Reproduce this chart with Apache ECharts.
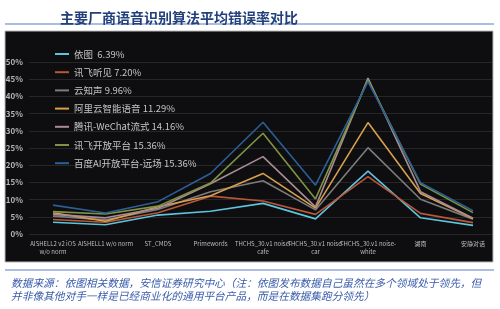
<!DOCTYPE html>
<html>
<head>
<meta charset="utf-8">
<script src="https://cdn.jsdelivr.net/npm/echarts@6/dist/echarts.min.js"></script>
<style>
html,body{margin:0;padding:0;background:#fff;}
#c{width:500px;height:309px;}
</style>
</head>
<body>
<div id="c"></div>
<script>
var categories = ["AISHELL2 v2 iOS\nw/o norm", "AISHELL1 w/o norm", "ST_CMDS", "Primewords",
  "THCHS_30.v1 noise-\ncafe", "THCHS_30.v1 noise-\ncar", "THCHS_30.v1 noise-\nwhite", "湖南", "安静对话"];
var seriesNames = ["依图  6.39%", "讯飞听见 7.20%", "云知声 9.96%", "阿里云智能语音 11.29%",
  "腾讯-WeChat流式 14.16%", "讯飞开放平台 15.36%", "百度AI开放平台-远场 15.36%"];
var yitu    = [3.4, 2.7, 5.5, 6.6, 8.9, 4.4, 18.3, 4.7, 2.5];
var xfTing  = [4.2, 3.4, 6.2, 11.0, 9.6, 5.7, 16.7, 6.0, 3.3];
var yzs     = [5.2, 4.1, 7.1, 12.3, 15.5, 7.0, 25.1, 10.1, 4.3];
var ali     = [6.2, 3.7, 7.9, 11.1, 17.6, 7.5, 32.4, 11.8, 4.5];
var tencent = [5.7, 4.7, 7.5, 14.6, 22.5, 7.9, 45.3, 12.3, 4.6];
var xfOpen  = [6.5, 5.8, 8.1, 14.8, 29.3, 10.2, 44.8, 14.5, 6.2];
var baidu   = [8.4, 6.1, 9.4, 17.6, 32.5, 14.2, 44.3, 14.9, 6.8];
var yTicks = [0, 5, 10, 15, 20, 25, 30, 35, 40, 45, 50];

var seriesData = [yitu, xfTing, yzs, ali, tencent, xfOpen, baidu];
var colors = ["#5ec4dc", "#b9573b", "#7c7c7c", "#d6a04c", "#a98c93", "#7f9442", "#2c5f95"];
var font = "'Noto Sans CJK SC', 'Noto Sans', sans-serif";

var chart = echarts.init(document.getElementById('c'), null, {renderer: 'canvas'});
var option = {
  animation: false,
  color: colors,
  textStyle: {fontFamily: font},
  title: [
    {text: "主要厂商语音识别算法平均错误率对比", left: 55, top: 6,
     textStyle: {fontSize: 14, fontWeight: 'bold', color: '#22407c', fontFamily: font}},
    {text: "数据来源：依图相关数据，安信证券研究中心（注：依图发布数据自己虽然在多个领域处于领先，但\n并非像其他对手一样是已经商业化的通用平台产品，而是在数据集跑分领先）",
     left: 6, top: 271,
     textStyle: {fontSize: 10.7, fontStyle: 'italic', fontWeight: 'normal', color: '#3a5cab', lineHeight: 13, fontFamily: font}}
  ],
  graphic: [
    {type: 'rect', z: -10, shape: {x: 5, y: 31, width: 488, height: 231},
     style: {fill: '#0e0e10', stroke: '#b8b8b8', lineWidth: 1}},
    {type: 'line', shape: {x1: 5, y1: 24, x2: 494, y2: 24}, style: {stroke: '#8ea7d8', lineWidth: 1.5}},
    {type: 'line', shape: {x1: 5, y1: 270, x2: 494, y2: 270}, style: {stroke: '#8ea7d8', lineWidth: 1.5}}
  ],
  legend: {
    orient: 'vertical', left: 50, top: 43,
    itemWidth: 14, itemHeight: 2, itemGap: 6.2, icon: 'rect',
    textStyle: {color: '#c4c4c4', fontSize: 9.5, lineHeight: 12},
    data: seriesNames
  },
  grid: [
    {left: 53, right: 27, top: 62, bottom: 75},
    {left: 29, right: 8, top: 62, bottom: 75}
  ],
  xAxis: [
    {type: 'category', gridIndex: 0, data: categories, boundaryGap: false,
     axisLine: {show: false}, axisTick: {show: false},
     axisLabel: {interval: 0, color: '#bdbdbd', fontSize: 6, lineHeight: 8, margin: 6}},
    {type: 'category', gridIndex: 1, data: categories, show: false}
  ],
  yAxis: [
    {type: 'value', gridIndex: 0, min: 0, max: 50, interval: 5, show: false},
    {type: 'value', gridIndex: 1, min: yTicks[0], max: yTicks[yTicks.length - 1], interval: 5,
     axisLine: {show: false}, axisTick: {show: false},
     axisLabel: {formatter: '{value}%', color: '#b5b5b5', fontSize: 8, fontWeight: 'bold', margin: 6},
     splitLine: {lineStyle: {color: '#262628', width: 1}}}
  ],
  series: seriesNames.map(function (n, i) {
    return {
      name: n, type: 'line', xAxisIndex: 0, yAxisIndex: 0,
      data: seriesData[i], symbol: 'none', showSymbol: false,
      lineStyle: {width: 1.6, color: colors[i]}, itemStyle: {color: colors[i]},
      z: 2 + i
    };
  })
};
chart.setOption(option);
</script>
</body>
</html>
